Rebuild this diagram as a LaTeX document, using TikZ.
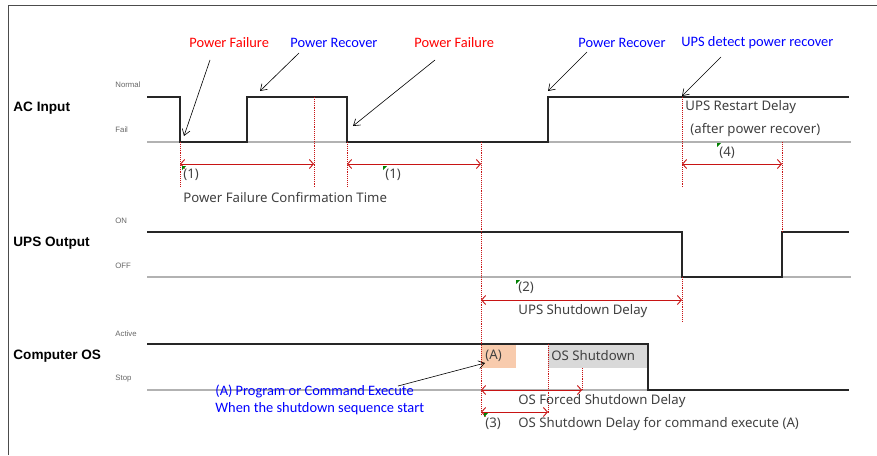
\documentclass[tikz,border=0pt]{standalone}
\usepackage{fontspec}
\setmainfont{Carlito}
\newfontfamily\notefont{Noto Sans}
\newfontfamily\headfont{Liberation Sans}
\usepackage{tikz}
\usetikzlibrary{arrows.meta, positioning, calc}

\definecolor{failred}{RGB}{255,0,0}
\definecolor{recblue}{RGB}{0,0,255}
\definecolor{spanred}{RGB}{200,20,20}
\definecolor{boxorange}{RGB}{248,203,173}
\definecolor{boxgray}{RGB}{217,217,217}
\definecolor{flaggreen}{RGB}{0,128,0}

\begin{document}
\begin{tikzpicture}[x=1pt, y=-1pt, thick,
  wave/.style={line width=1.5pt, black!85},
  baseline/.style={line width=1.6pt, gray!60},
  guide/.style={spanred, densely dotted, line width=0.9pt},
  span/.style={{Straight Barb[length=4pt,width=9pt]}-{Straight Barb[length=4pt,width=9pt]}, spanred, line width=0.9pt},
  callout/.style={-{Straight Barb[length=6pt,width=8pt]}, black, line width=0.6pt},
  note/.style={font=\notefont\fontsize{13.2}{15}\selectfont, text=black!75, anchor=west, inner sep=0pt},
  level/.style={font=\headfont\fontsize{7.8}{9}\selectfont, text=black!60, anchor=west, inner sep=0pt},
  signal/.style={font=\headfont\bfseries\fontsize{13.6}{16}\selectfont, anchor=west, inner sep=0pt},
  event/.style={font=\fontsize{14.4}{17}\selectfont, anchor=west, inner sep=0pt}]
\useasboundingbox (0,0) rectangle (877,455);

% Frame
\draw[black!70, line width=1pt] (8,455) -- (8,5) -- (877,5);

% Signal names and levels
\node[signal] (acname) at (13,108) {AC Input};
\node[signal] (upsname) at (13,243) {UPS Output};
\node[signal] (osname) at (13,356) {Computer OS};
\node[level] (normal) at (115,85) {Normal};
\node[level] (fail) at (115,130) {Fail};
\node[level] (on) at (115,221) {ON};
\node[level] (off) at (115,266) {OFF};
\node[level] (active) at (115,334) {Active};
\node[level] (stop) at (115,379) {Stop};

% Boxes in the OS band
\fill[boxorange] (481,344) rectangle (516,368);
\fill[boxgray] (548,344) rectangle (648,368);

% Base lines
\draw[baseline] (147,142) -- (851,142);
\draw[baseline] (147,277) -- (851,277);
\draw[baseline] (147,390) -- (648,390);

% Waveforms
\draw[wave] (147,97) -- (180,97) -- (180,142) -- (247,142) -- (247,97)
  -- (347,97) -- (347,142) -- (548,142) -- (548,97) -- (849,97);
\draw[wave] (147,232) -- (682,232) -- (682,277) -- (782,277) -- (782,232) -- (849,232);
\draw[wave] (147,344) -- (648,344) -- (648,390) -- (849,390);

% Points on the waveforms
\coordinate (fall1) at (184,136);
\coordinate (rise1) at (260,91);
\coordinate (fall2) at (353,126);
\coordinate (rise2) at (548,91);
\coordinate (detect) at (682,96);
\coordinate (exec) at (485,363);

% Timing guides
\draw[guide] (180,142) -- (180,187);
\draw[guide] (314,97) -- (314,187);
\draw[guide] (347,142) -- (347,187);
\draw[guide] (481,142) -- (481,414);
\draw[guide] (682,97) -- (682,187);
\draw[guide] (682,277) -- (682,322);
\draw[guide] (782,142) -- (782,232);
\draw[guide] (548,344) -- (548,414);
\draw[guide] (582,368) -- (582,390);

% Delay spans
\draw[span] (180,164) -- (314,164);
\draw[span] (347,164) -- (481,164);
\draw[span] (682,164) -- (782,164);
\draw[span] (481,300) -- (682,300);
\draw[span] (481,390) -- (582,390);
\draw[span] (481,412) -- (548,412);

% Comment flags
\foreach \fx/\fy in {182/166, 383/166, 717/143, 516/280, 484/413}
  \fill[flaggreen] (\fx,\fy) -- ++(4,0) -- ++(-4,4) -- cycle;

% Delay labels
\node[note] (n1a) at (183,175) {(1)};
\node[note] (n1b) at (385,175) {(1)};
\node[note] (confirm) at (183,198) {Power Failure Confirmation Time};
\node[note] (restart) at (685,107) {UPS Restart Delay};
\node[note] (after) at (690,130) {(after power recover)};
\node[note] (n4) at (719,153) {(4)};
\node[note] (n2) at (518,288) {(2)};
\node[note] (upsdelay) at (518,311) {UPS Shutdown Delay};
\node[note] (boxa) at (485,356) {(A)};
\node[note] (osshut) at (551,356) {OS Shutdown};
\node[note] (forced) at (518,401) {OS Forced Shutdown Delay};
\node[note] (n3) at (485,424) {(3)};
\node[note] (cmddelay) at (518,424) {OS Shutdown Delay for command execute (A)};

% Event labels
\node[event, text=failred] (pf1) at (189,43) {Power Failure};
\node[event, text=recblue] (pr1) at (290,43) {Power Recover};
\node[event, text=failred] (pf2) at (414,43) {Power Failure};
\node[event, text=recblue] (pr2) at (578,43) {Power Recover};
\node[event, text=recblue] (detectlbl) at (681,43) {UPS detect power recover};
\node[event, text=recblue] (execa) at (215,391) {(A) Program or Command Execute};
\node[event, text=recblue] (execb) at (215,409) {When the shutdown sequence start};

% Callouts
\draw[callout] (210,60) -- (fall1);
\draw[callout] (299,53) -- (rise1);
\draw[callout] (435,60) -- (fall2);
\draw[callout] (587,52) -- (rise2);
\draw[callout] (721,57) -- (detect);
\draw[callout] (398,386) -- (exec);
\end{tikzpicture}
\end{document}
